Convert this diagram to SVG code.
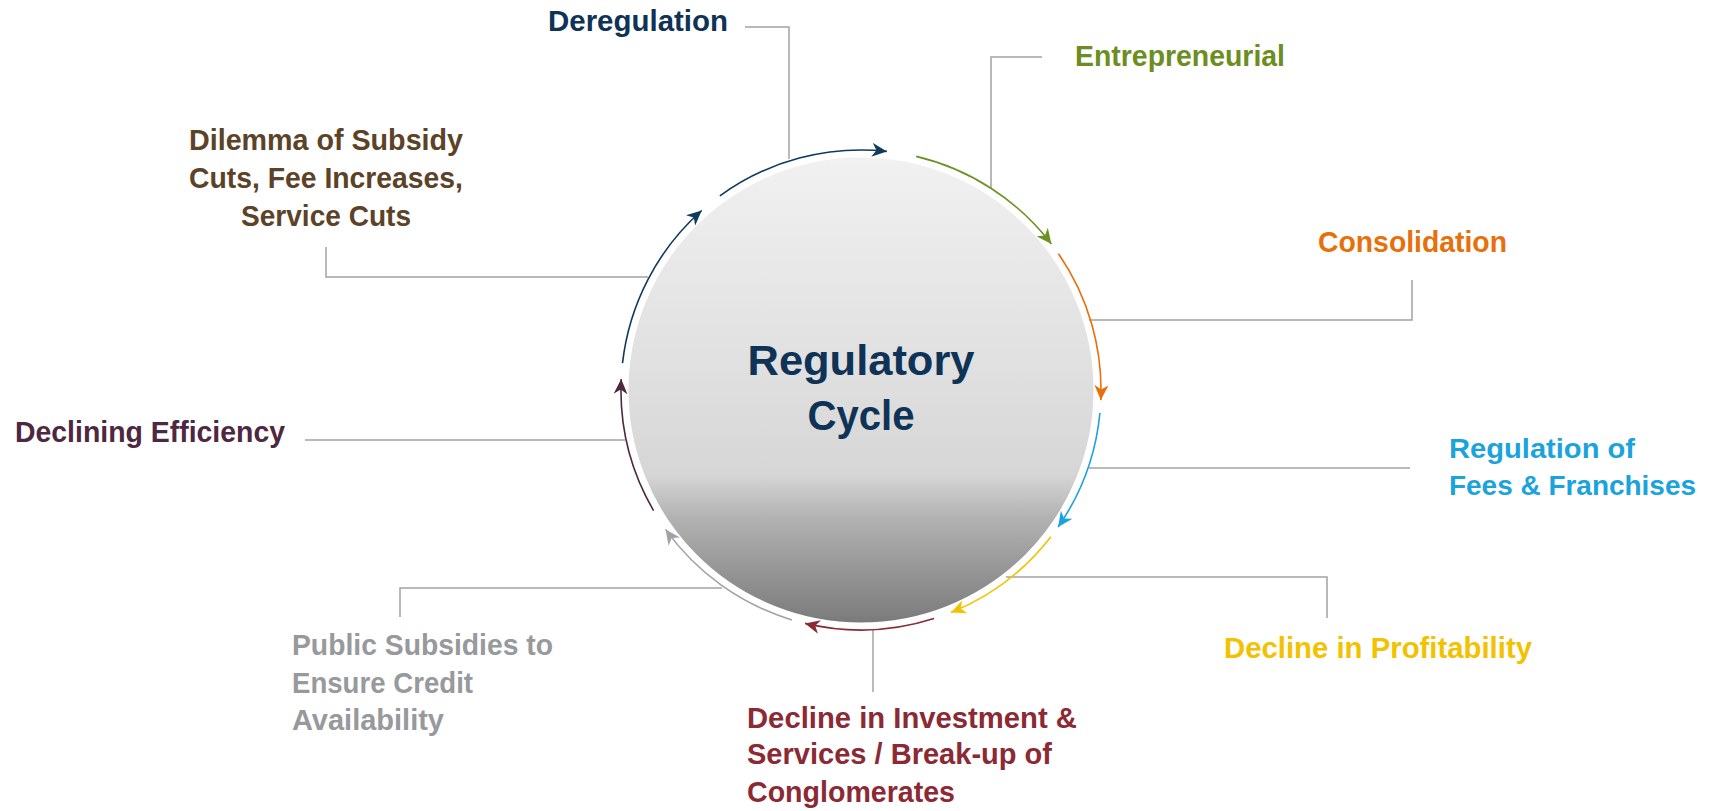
<svg xmlns="http://www.w3.org/2000/svg" width="1709" height="811" viewBox="0 0 1709 811">
  <defs>
    <linearGradient id="discFill" x1="0" y1="0" x2="0" y2="1">
      <stop offset="0" stop-color="#f1f1f1"/>
      <stop offset="0.45" stop-color="#e0e0e0"/>
      <stop offset="0.68" stop-color="#d6d6d6"/>
      <stop offset="0.77" stop-color="#b3b3b3"/>
      <stop offset="0.86" stop-color="#9c9c9c"/>
      <stop offset="1" stop-color="#7a7a7a"/>
    </linearGradient>
    <marker id="hNavy" markerUnits="userSpaceOnUse" viewBox="0 0 15 14" refX="15" refY="7" markerWidth="15" markerHeight="14" orient="auto"><path d="M0,0 L15,7 L0,14 L4.5,7 Z" fill="#0f3a5e"/></marker>
    <marker id="hGreen" markerUnits="userSpaceOnUse" viewBox="0 0 15 14" refX="15" refY="7" markerWidth="15" markerHeight="14" orient="auto"><path d="M0,0 L15,7 L0,14 L4.5,7 Z" fill="#6b9222"/></marker>
    <marker id="hOrange" markerUnits="userSpaceOnUse" viewBox="0 0 15 14" refX="15" refY="7" markerWidth="15" markerHeight="14" orient="auto"><path d="M0,0 L15,7 L0,14 L4.5,7 Z" fill="#e8700a"/></marker>
    <marker id="hBlue" markerUnits="userSpaceOnUse" viewBox="0 0 15 14" refX="15" refY="7" markerWidth="15" markerHeight="14" orient="auto"><path d="M0,0 L15,7 L0,14 L4.5,7 Z" fill="#1ba1dc"/></marker>
    <marker id="hYellow" markerUnits="userSpaceOnUse" viewBox="0 0 15 14" refX="15" refY="7" markerWidth="15" markerHeight="14" orient="auto"><path d="M0,0 L15,7 L0,14 L4.5,7 Z" fill="#f2c200"/></marker>
    <marker id="hRed" markerUnits="userSpaceOnUse" viewBox="0 0 15 14" refX="15" refY="7" markerWidth="15" markerHeight="14" orient="auto"><path d="M0,0 L15,7 L0,14 L4.5,7 Z" fill="#8b2a35"/></marker>
    <marker id="hGray" markerUnits="userSpaceOnUse" viewBox="0 0 15 14" refX="15" refY="7" markerWidth="15" markerHeight="14" orient="auto"><path d="M0,0 L15,7 L0,14 L4.5,7 Z" fill="#a0a2a5"/></marker>
    <marker id="hPlum" markerUnits="userSpaceOnUse" viewBox="0 0 15 14" refX="15" refY="7" markerWidth="15" markerHeight="14" orient="auto"><path d="M0,0 L15,7 L0,14 L4.5,7 Z" fill="#4e2741"/></marker>
  </defs>
  <style>
    .lbl { font-family: "Liberation Sans", Arial, sans-serif; font-weight: bold; font-size: 30px; }
    .lbl.sm { font-size: 28px; }
    .title { font-family: "Liberation Sans", Arial, sans-serif; font-weight: bold; font-size: 42px; fill: #0e3357; }
    .leader { fill: none; stroke: #a3a3a3; stroke-width: 1.5; }
    .arc { fill: none; stroke-width: 1.6; }
  </style>

  <!-- central disc -->
  <g id="hub">
    <circle cx="861" cy="390" r="234" fill="url(#discFill)" stroke="#ffffff" stroke-width="3"/>
    <text class="title" x="861" y="375" text-anchor="middle" textLength="227" lengthAdjust="spacingAndGlyphs">Regulatory</text>
    <text class="title" x="861" y="430" text-anchor="middle" textLength="107" lengthAdjust="spacingAndGlyphs">Cycle</text>
  </g>

  <!-- leader lines from the ring out to each stage label -->
  <g id="leaders">
    <path class="leader" d="M745,27 H789 V159"/>
    <path class="leader" d="M1042,57 H991 V188"/>
    <path class="leader" d="M1412,280 V320 H1089"/>
    <path class="leader" d="M1410,468 H1089"/>
    <path class="leader" d="M1327,618 V577 H1006"/>
    <path class="leader" d="M873,630 V692"/>
    <path class="leader" d="M400,617 V588 H722"/>
    <path class="leader" d="M305,440 H625"/>
    <path class="leader" d="M326,247 V277 H648"/>
  </g>

  <!-- arrowed arc segments around the disc, clockwise -->
  <g id="connectors">
    <path class="arc" stroke="#0f3a5e" marker-end="url(#hNavy)" d="M622.5,363.2 A240,240 0 0 1 701.7,210.5"/>
    <path class="arc" stroke="#0f3a5e" marker-end="url(#hNavy)" d="M719.9,195.8 A240,240 0 0 1 886.9,151.4"/>
    <path class="arc" stroke="#6b9222" marker-end="url(#hGreen)" d="M916.2,156.4 A240,240 0 0 1 1051.4,243.9"/>
    <path class="arc" stroke="#e8700a" marker-end="url(#hOrange)" d="M1058.5,253.7 A240,240 0 0 1 1100.8,400.1"/>
    <path class="arc" stroke="#1ba1dc" marker-end="url(#hBlue)" d="M1099.9,413.0 A240,240 0 0 1 1058.1,527.0"/>
    <path class="arc" stroke="#f2c200" marker-end="url(#hYellow)" d="M1050.9,536.8 A240,240 0 0 1 950.9,612.5"/>
    <path class="arc" stroke="#8b2a35" marker-end="url(#hRed)" d="M934.0,618.6 A240,240 0 0 1 805.0,623.4"/>
    <path class="arc" stroke="#a0a2a5" marker-end="url(#hGray)" d="M792.0,619.9 A240,240 0 0 1 665.6,529.4"/>
    <path class="arc" stroke="#4e2741" marker-end="url(#hPlum)" d="M653.6,510.7 A240,240 0 0 1 621.2,379.1"/>
  </g>

  <g id="deregulation">
    <text class="lbl" x="548" y="31" fill="#0e3357" textLength="180" lengthAdjust="spacingAndGlyphs">Deregulation</text>
  </g>
  <g id="entrepreneurial">
    <text class="lbl" x="1075" y="66" fill="#6b8e1f" textLength="210" lengthAdjust="spacingAndGlyphs">Entrepreneurial</text>
  </g>
  <g id="consolidation">
    <text class="lbl" x="1318" y="252" fill="#e8700a" textLength="189" lengthAdjust="spacingAndGlyphs">Consolidation</text>
  </g>
  <g id="regulation">
    <text class="lbl sm" x="1449" y="458" fill="#1aa3dc" textLength="186" lengthAdjust="spacingAndGlyphs">Regulation of</text>
    <text class="lbl sm" x="1449" y="495" fill="#1aa3dc" textLength="247" lengthAdjust="spacingAndGlyphs">Fees &amp; Franchises</text>
  </g>
  <g id="profitability">
    <text class="lbl" x="1224" y="658" fill="#f2c200" textLength="308" lengthAdjust="spacingAndGlyphs">Decline in Profitability</text>
  </g>
  <g id="investment">
    <text class="lbl" x="747" y="728" fill="#8b2a35" textLength="330" lengthAdjust="spacingAndGlyphs">Decline in Investment &amp;</text>
    <text class="lbl" x="747" y="764" fill="#8b2a35" textLength="305" lengthAdjust="spacingAndGlyphs">Services / Break-up of</text>
    <text class="lbl" x="747" y="802" fill="#8b2a35" textLength="208" lengthAdjust="spacingAndGlyphs">Conglomerates</text>
  </g>
  <g id="subsidies">
    <text class="lbl" x="292" y="655" fill="#97999c" textLength="261" lengthAdjust="spacingAndGlyphs">Public Subsidies to</text>
    <text class="lbl" x="292" y="693" fill="#97999c" textLength="181" lengthAdjust="spacingAndGlyphs">Ensure Credit</text>
    <text class="lbl" x="292" y="730" fill="#97999c" textLength="152" lengthAdjust="spacingAndGlyphs">Availability</text>
  </g>
  <g id="efficiency">
    <text class="lbl" x="15" y="442" fill="#4e2741" textLength="270" lengthAdjust="spacingAndGlyphs">Declining Efficiency</text>
  </g>
  <g id="dilemma">
    <text class="lbl" x="326" y="150" fill="#5c4327" text-anchor="middle" textLength="274" lengthAdjust="spacingAndGlyphs">Dilemma of Subsidy</text>
    <text class="lbl" x="326" y="188" fill="#5c4327" text-anchor="middle" textLength="274" lengthAdjust="spacingAndGlyphs">Cuts, Fee Increases,</text>
    <text class="lbl" x="326" y="226" fill="#5c4327" text-anchor="middle" textLength="170" lengthAdjust="spacingAndGlyphs">Service Cuts</text>
  </g>
</svg>
